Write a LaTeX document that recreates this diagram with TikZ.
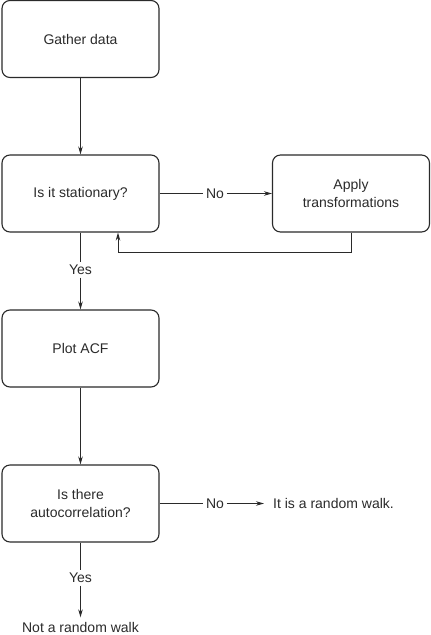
\documentclass[tikz,border=0pt]{standalone}
\usepackage{fontspec}
\setmainfont{Liberation Sans}
\usepackage{tikz}
\usetikzlibrary{
    arrows.meta,
    calc,
    positioning
}
\definecolor{ink}{HTML}{2A2A2A}

\begin{document}
\begin{tikzpicture}[x=1pt, y=-1pt,
    every node/.style={font=\fontsize{14}{17.5}\selectfont, text=ink},
    box/.style={draw=ink, line width=1.1pt, rounded corners=8pt, minimum width=157pt, minimum height=77pt, align=center, inner sep=0pt},
    lbl/.style={inner sep=2.5pt},
    every edge/.style={draw=ink, line width=0.9pt},
    >={Stealth[length=8pt, width=4.5pt]}]
    \useasboundingbox (0, 0) rectangle (431, 635);
    \node[box] (gather) at (80.5, 39) {Gather data};
    \node[box] (stat) at (80.5, 193.5) {Is it stationary?};
    \node[box] (apply) at (351, 193.5) {Apply\\transformations};
    \node[box] (acf) at (80.5, 348.5) {Plot ACF};
    \node[box] (auto) at (80.5, 503.5) {Is there\\autocorrelation?};
    \node[lbl] (no1) at (215, 193.5) {No};
    \node[lbl] (yes1) at (80.5, 270) {Yes};
    \node[lbl] (no2) at (215, 503.5) {No};
    \node[lbl] (yes2) at (80.5, 578) {Yes};
    \node[anchor=west, inner sep=0pt] (rw) at (273, 503.5) {It is a random walk.};
    \node (nrw) at (80.5, 627) {Not a random walk};
    \coordinate (back) at (118, 252);
    \draw
    (gather) edge[->] (stat)
    (stat) edge (no1)
    (no1) edge[->] (apply)
    (stat) edge (yes1)
    (yes1) edge[->] (acf)
    (acf) edge[->] (auto)
    (auto) edge (no2)
    (no2) edge[->, shorten >=9pt] (rw)
    (auto) edge (yes2)
    (yes2) edge[->, shorten >=1pt] (nrw);
    \draw[draw=ink, line width=0.9pt, ->] (apply.south) |- (back) -- (back |- stat.south);
\end{tikzpicture}
\end{document}
